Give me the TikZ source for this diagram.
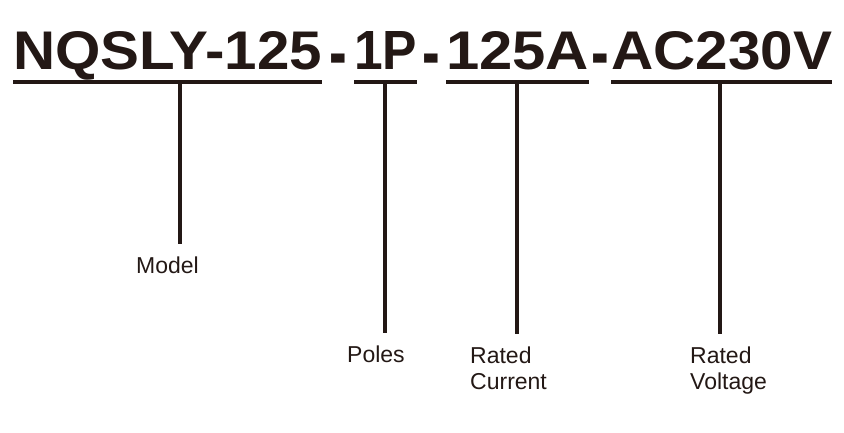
\documentclass[tikz,border=0pt]{standalone}
\usepackage{fontspec}
\usepackage{graphicx}
\newfontfamily\codefont{Liberation Sans}
\newfontfamily\lblfont{Liberation Sans}
\definecolor{ink}{RGB}{35,24,21}
\tikzset{
  code/.style={font=\codefont\bfseries\fontsize{53}{60}\selectfont, text=ink, inner sep=0pt, anchor=base west},
  dashsign/.style={font=\codefont\bfseries\fontsize{53}{60}\selectfont, text=ink, inner sep=0pt, anchor=base},
  uline/.style={draw=ink, line width=3.5pt},
  stem/.style={draw=ink, line width=3.5pt, shorten >=13pt},
  lbl/.style={font=\lblfont\fontsize{23}{26}\selectfont, text=ink, align=left, inner sep=0pt, anchor=north west}
}
\newcommand{\codepart}[2]{\resizebox{#1}{38pt}{#2}}
\newcommand{\codedash}{\raisebox{-9pt}{\scalebox{1}[1.45]{-}}}

\begin{document}
\begin{tikzpicture}[x=1pt,y=-1pt]
    \useasboundingbox (0,0) rectangle (844,433);

                % part number, one node per field
                \node[code] (model part) at (13,70) {\codepart{309pt}{NQSLY-125}};
                \node[code] (pole part) at (354,70) {\codepart{63pt}{1P}};
                \node[code] (current part) at (446,70) {\codepart{143pt}{125A}};
                \node[code] (voltage part) at (611,70) {\codepart{221pt}{AC230V}};
                \node[dashsign] (dash1) at (338.5,70) {\codedash};
                \node[dashsign] (dash2) at (431.5,70) {\codedash};
                \node[dashsign] (dash3) at (600,70) {\codedash};

                % captions
                \node[lbl] (model) at (136,257) {Model};
                \node[lbl] (poles) at (347,346) {Poles};
                \node[lbl] (current) at (470,347) {Rated\\Current};
                \node[lbl] (voltage) at (690,347) {Rated\\Voltage};

                % underlines
                \draw[uline] ([yshift=-12pt]model part.base west) -- ([yshift=-12pt]model part.base east);
                \draw[uline] ([yshift=-12pt]pole part.base west) -- ([yshift=-12pt]pole part.base east);
                \draw[uline] ([yshift=-12pt]current part.base west) -- ([yshift=-12pt]current part.base east);
                \draw[uline] ([yshift=-12pt]voltage part.base west) -- ([yshift=-12pt]voltage part.base east);

                \coordinate (s1) at (180,82);
                \coordinate (s2) at (385,82);
                \coordinate (s3) at (517,82);
                \coordinate (s4) at (720,82);

                \draw[stem] (s1) -- (s1 |- model.north);
                \draw[stem] (s2) -- (s2 |- poles.north);
                \draw[stem] (s3) -- (s3 |- current.north);
                \draw[stem] (s4) -- (s4 |- voltage.north);

            \end{tikzpicture}
\end{document}
